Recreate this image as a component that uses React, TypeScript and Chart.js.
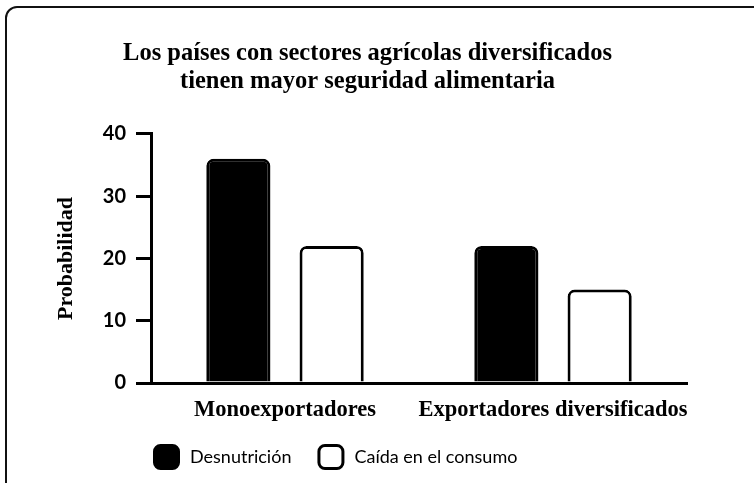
import React, { useEffect, useRef } from "react";
import { Chart, registerables } from "chart.js";

Chart.register(...registerables);

const categories = ["Monoexportadores", "Exportadores diversificados"];
const seriesNames = ["Desnutrición", "Caída en el consumo"];
const desnutricion = [36, 22];
const caidaConsumo = [22, 15];
const yMin = 0;
const yMax = 40;
const yStep = 10;
const titleLines = [
  "Los países con sectores agrícolas diversificados",
  "tienen mayor seguridad alimentaria",
];
const yAxisTitle = "Probabilidad";

const SERIF = "'Liberation Serif', 'DejaVu Serif', serif";
const SANS = "Lato, 'Noto Sans', sans-serif";

const legendPlugin = {
  id: "customLegend",
  afterDraw(chart: any) {
    const ctx = chart.ctx as CanvasRenderingContext2D;
    const area = chart.chartArea;
    let x = area.left + 2;
    const boxW = 27;
    const boxH = 26;
    const cy = 457;
    ctx.save();
    ctx.font = `18px ${SANS}`;
    ctx.textBaseline = "middle";
    ctx.textAlign = "left";
    chart.data.datasets.forEach((ds: any) => {
      ctx.beginPath();
      (ctx as any).roundRect(x + 1.5, cy - boxH / 2 + 1.5, boxW - 3, boxH - 3, 6);
      ctx.fillStyle = ds.backgroundColor;
      ctx.fill();
      ctx.lineWidth = 3;
      ctx.strokeStyle = ds.borderColor;
      ctx.stroke();
      ctx.fillStyle = "#000";
      const tx = x + boxW + 10;
      ctx.fillText(ds.label, tx, cy);
      x = tx + ctx.measureText(ds.label).width + 26;
    });
    ctx.restore();
  },
};

export default function App() {
  const ref = useRef<HTMLCanvasElement | null>(null);

  useEffect(() => {
    if (!ref.current) return;
    const chart = new Chart(ref.current, {
      type: "bar",
      data: {
        labels: categories,
        datasets: [
          {
            label: seriesNames[0],
            data: desnutricion,
            backgroundColor: "#000000",
            borderColor: "#000000",
            borderWidth: 3,
            borderRadius: 7,
            borderSkipped: "bottom",
          },
          {
            label: seriesNames[1],
            data: caidaConsumo,
            backgroundColor: "#ffffff",
            borderColor: "#000000",
            borderWidth: 3,
            borderRadius: 7,
            borderSkipped: "bottom",
          },
        ],
      },
      options: {
        responsive: false,
        animation: false,
        devicePixelRatio: 1,
        categoryPercentage: 0.696,
        barPercentage: 0.688,
        layout: { padding: { left: 48, right: 67, top: 0, bottom: 0 } },
        plugins: {
          legend: { display: false },
          tooltip: { enabled: false },
          title: {
            display: true,
            text: titleLines,
            color: "#000",
            font: { family: SERIF, weight: "bold", size: 24.5, lineHeight: 1.13 },
            padding: { top: 40, bottom: 38.6 },
          },
        },
        scales: {
          x: {
            grid: { display: false, drawTicks: false },
            border: { display: true, color: "#000", width: 3 },
            ticks: {
              color: "#000",
              padding: 14,
              autoSkip: false,
              maxRotation: 0,
              minRotation: 0,
              font: { family: SERIF, weight: "bold", size: 22.5 },
            },
            afterFit: (s: any) => {
              s.height = 100;
            },
          },
          y: {
            min: yMin,
            max: yMax,
            ticks: {
              stepSize: yStep,
              color: "#000",
              padding: 10,
              font: { family: SANS, weight: "bold", size: 20 },
            },
            grid: {
              display: true,
              drawOnChartArea: false,
              drawTicks: true,
              tickLength: 15,
              color: "#000",
              lineWidth: 3,
            },
            border: { display: true, color: "#000", width: 3 },
            title: {
              display: true,
              text: yAxisTitle,
              color: "#000",
              font: { family: SERIF, weight: "bold", size: 22 },
              padding: { top: 5, bottom: 0 },
            },
            afterFit: (s: any) => {
              s.width = 103;
            },
          },
        },
      },
      plugins: [legendPlugin],
    });
    return () => chart.destroy();
  }, []);

  return (
    <div
      style={{
        position: "fixed",
        left: 0,
        top: 0,
        width: 754,
        height: 483,
        overflow: "hidden",
        background: "#fff",
      }}
    >
      <div
        style={{
          position: "absolute",
          left: 5,
          top: 6,
          width: 800,
          height: 540,
          border: "2.5px solid #111",
          borderRadius: 12,
          boxSizing: "border-box",
        }}
      />
      <canvas
        ref={ref}
        width={754}
        height={483}
        style={{ position: "absolute", left: 0, top: 0, width: 754, height: 483 }}
      />
    </div>
  );
}
